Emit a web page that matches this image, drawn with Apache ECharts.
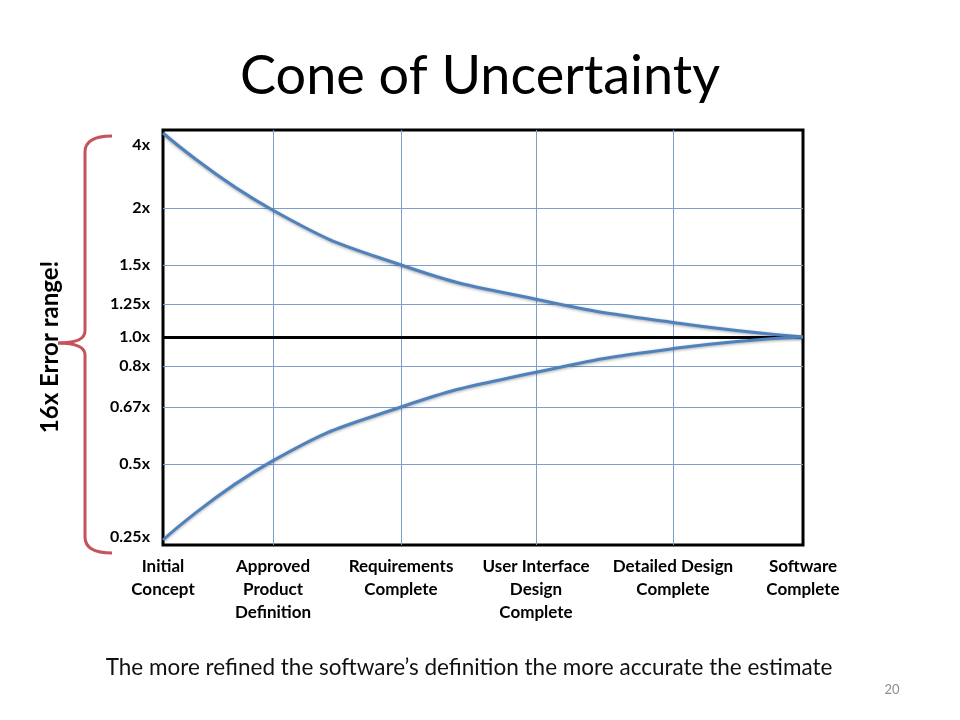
<!DOCTYPE html>
<html><head><meta charset="utf-8">
<script src="https://cdn.jsdelivr.net/npm/echarts@6/dist/echarts.min.js"></script>
<style>html,body{margin:0;padding:0;background:#fff}#c{width:960px;height:720px}</style>
</head><body><div id="c"></div>
<script>
// ---- data ----
const stages = ['Initial\nConcept', 'Approved\nProduct\nDefinition', 'Requirements\nComplete',
  'User Interface\nDesign\nComplete', 'Detailed Design\nComplete', 'Software\nComplete'];
const upperEstimate = [4, 1.98, 1.5, 1.28, 1.11, 1.0];
const lowerEstimate = [0.25, 0.51, 0.67, 0.78, 0.92, 1.0];
const yTickValues = [4, 2, 1.5, 1.25, 1.0, 0.8, 0.67, 0.5, 0.25];
const yTickLabels = ['4x', '2x', '1.5x', '1.25x', '1.0x', '0.8x', '0.67x', '0.5x', '0.25x'];

// ---- custom (non-linear) axis scales ----
// position of each multiplier along the vertical axis (0 = top of plot, 415 = bottom)
const yScaleStops = [3, 78, 135, 174, 207, 236, 277, 334, 410];
const yLabelAnchor = [15, 78, 135, 174, 207, 236, 277, 334, 407];
// position of each project stage along the horizontal axis
const xScaleStops = [0, 110, 238, 373, 510, 640];

function toAxis(v) {
  for (let i = 0; i < yTickValues.length - 1; i++) {
    const a = yTickValues[i], b = yTickValues[i + 1];
    if (v <= a && v >= b) {
      const t = (a - v) / (a - b);
      return yScaleStops[i] + t * (yScaleStops[i + 1] - yScaleStops[i]);
    }
  }
  return v > yTickValues[0] ? yScaleStops[0] : yScaleStops[yScaleStops.length - 1];
}

const upperData = upperEstimate.map((v, i) => [xScaleStops[i], toAxis(v)]);
const lowerData = lowerEstimate.map((v, i) => [xScaleStops[i], toAxis(v)]);

const gridColor = '#7d9fce';
const gridLines = [];
yTickValues.forEach(v => {
  if (v === 1.0 || v === 4 || v === 0.25) return;
  gridLines.push({ yAxis: toAxis(v) });
});
xScaleStops.slice(1, -1).forEach(x => gridLines.push({ xAxis: x }));
gridLines.push({ yAxis: toAxis(1.0), lineStyle: { color: '#000', width: 3 } });

const FONT = 'Lato, "Open Sans", sans-serif';
const curveStyle = {
  color: '#4F81BD', width: 3,
  shadowColor: 'rgba(0,0,0,0.35)', shadowBlur: 3, shadowOffsetY: 1
};

const chart = echarts.init(document.getElementById('c'), null, { renderer: 'canvas' });
chart.setOption({
  animation: false,
  backgroundColor: '#fff',
  grid: { left: 163, top: 130, width: 640, height: 415, show: true, borderColor: '#000', borderWidth: 3, backgroundColor: 'transparent' },
  xAxis: {
    type: 'value', min: 0, max: 640,
    axisLine: { show: false }, axisTick: { show: false }, splitLine: { show: false },
    axisLabel: {
      customValues: xScaleStops, showMinLabel: true, showMaxLabel: true, hideOverlap: false,
      formatter: v => stages[xScaleStops.indexOf(v)] || '',
      fontFamily: FONT, fontWeight: 'bold', fontSize: 17, lineHeight: 23, color: '#000', margin: 10
    }
  },
  yAxis: {
    type: 'value', inverse: true, min: 0, max: 415,
    axisLine: { show: false }, axisTick: { show: false }, splitLine: { show: false },
    axisLabel: {
      customValues: yLabelAnchor, showMinLabel: true, showMaxLabel: true, hideOverlap: false,
      formatter: v => yTickLabels[yLabelAnchor.indexOf(v)] || '',
      fontFamily: FONT, fontWeight: 'bold', fontSize: 16, color: '#000', margin: 13
    }
  },
  series: [
    {
      type: 'line', data: [], z: 1, silent: true,
      markLine: {
        silent: true, z: 1, symbol: ['none', 'none'], label: { show: false },
        lineStyle: { color: gridColor, width: 1, type: 'solid' },
        emphasis: { disabled: true },
        data: gridLines
      }
    },
    { type: 'line', data: upperData, smooth: 0.5, symbol: 'none', z: 4, lineStyle: curveStyle, silent: true },
    { type: 'line', data: lowerData, smooth: 0.5, symbol: 'none', z: 4, lineStyle: curveStyle, silent: true }
  ],
  graphic: [
    { type: 'text', x: 480, y: 77, style: { text: 'Cone of Uncertainty', font: '54px ' + FONT, fill: '#000', align: 'center', verticalAlign: 'middle' } },
    { type: 'text', x: 50, y: 347, rotation: Math.PI / 2, style: { text: '16x Error range!', font: 'bold 24px ' + FONT, fill: '#000', align: 'center', verticalAlign: 'middle' } },
    { type: 'text', x: 469, y: 668, style: { text: 'The more refined the software\u2019s definition the more accurate the estimate', font: '22.5px ' + FONT, fill: '#111', align: 'center', verticalAlign: 'middle' } },
    { type: 'text', x: 892, y: 690, style: { text: '20', font: '13px ' + FONT, fill: '#8c8c8c', align: 'center', verticalAlign: 'middle' } },
    { type: 'group', children: [
      { type: 'bezierCurve', shape: { x1: 112, y1: 136, cpx1: 85, cpy1: 136, x2: 85, y2: 152 }, style: { stroke: '#C4535A', lineWidth: 3, fill: null } },
      { type: 'line', shape: { x1: 85, y1: 152, x2: 85, y2: 331 }, style: { stroke: '#C4535A', lineWidth: 3 } },
      { type: 'bezierCurve', shape: { x1: 85, y1: 331, cpx1: 85, cpy1: 343, x2: 58, y2: 343 }, style: { stroke: '#C4535A', lineWidth: 3, fill: null } },
      { type: 'bezierCurve', shape: { x1: 58, y1: 343, cpx1: 85, cpy1: 343, x2: 85, y2: 355 }, style: { stroke: '#C4535A', lineWidth: 3, fill: null } },
      { type: 'line', shape: { x1: 85, y1: 355, x2: 85, y2: 537 }, style: { stroke: '#C4535A', lineWidth: 3 } },
      { type: 'bezierCurve', shape: { x1: 85, y1: 537, cpx1: 85, cpy1: 553, x2: 112, y2: 553 }, style: { stroke: '#C4535A', lineWidth: 3, fill: null } }
    ] }
  ]
});
</script>
</body></html>
